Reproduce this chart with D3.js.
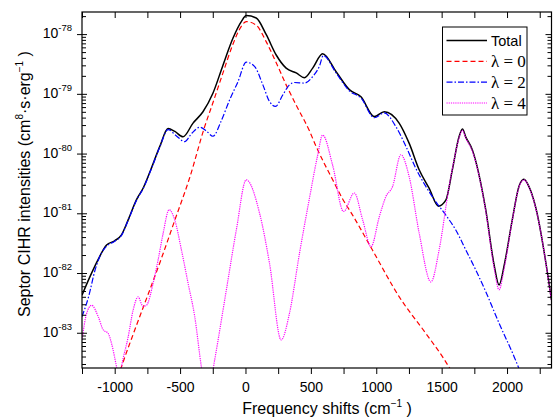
<!DOCTYPE html>
<html>
<head>
<meta charset="utf-8">
<script src="https://cdn.jsdelivr.net/npm/d3@7"></script>
<style>
  body { margin: 0; background: #fff; }
</style>
</head>
<body>
<svg id="chart"></svg>
<script>
/* CONSTANTS AND GLOBALS */
const width = 553,
  height = 418,
  margin = { top: 12, bottom: 50, left: 82, right: 1.5 };
const sans = "'Liberation Sans', Arial, sans-serif";
const serif = "'Liberation Serif', 'Times New Roman', serif";

// frequency shift (cm^-1) and log10 of intensity
const totalData = [
  [-1250, -82.37], [-1189, -82.06], [-1126, -81.77], [-1062, -81.53], [-1000, -81.46],
  [-948, -81.36], [-897, -81.11], [-833, -80.77], [-783, -80.58], [-724, -80.27],
  [-655, -79.88], [-592, -79.58], [-540, -79.63], [-478, -79.72], [-401, -79.49],
  [-325, -79.30], [-249, -78.99], [-172, -78.52], [-96, -78.07], [-32, -77.79],
  [6, -77.69], [82, -77.73], [159, -78.01], [235, -78.35], [311, -78.57],
  [388, -78.65], [451, -78.73], [514, -78.57], [590, -78.33], [693, -78.63],
  [794, -78.93], [883, -79.05], [985, -79.38], [1061, -79.30], [1175, -79.49],
  [1252, -79.83], [1328, -80.27], [1404, -80.58], [1475, -80.88], [1532, -80.78],
  [1582, -80.27], [1633, -79.72], [1659, -79.59], [1684, -79.72], [1735, -79.94],
  [1837, -80.94], [1900, -81.85], [1939, -82.20], [1980, -81.85], [2040, -81.11],
  [2091, -80.55], [2129, -80.43], [2167, -80.55], [2218, -80.89], [2340, -82.45]
];

const lambda0Data = [
  [-975, -83.75], [-948, -83.57], [-846, -82.95], [-745, -82.36], [-642, -81.75],
  [-541, -81.12], [-426, -80.40], [-312, -79.55], [-249, -79.15], [-172, -78.65],
  [-96, -78.17], [-32, -77.87], [6, -77.79], [82, -77.85], [159, -78.13],
  [235, -78.48], [311, -78.85], [388, -79.19], [489, -79.62], [540, -79.88],
  [667, -80.44], [743, -80.76], [819, -81.03], [972, -81.62], [1176, -82.40],
  [1379, -83.01], [1506, -83.40], [1580, -83.66]
];

const lambda2Data = [
  [-1250, -82.73], [-1200, -82.40], [-1150, -81.95], [-1100, -81.66], [-1062, -81.55],
  [-1000, -81.47], [-948, -81.37], [-897, -81.12], [-833, -80.78], [-783, -80.59],
  [-724, -80.28], [-655, -79.89], [-592, -79.60], [-530, -79.70], [-465, -79.80],
  [-410, -79.66], [-350, -79.56], [-300, -79.62], [-249, -79.71], [-185, -79.45],
  [-121, -79.10], [-58, -78.80], [6, -78.47], [69, -78.54], [133, -78.85],
  [184, -79.13], [230, -79.21], [285, -79.02], [336, -78.85], [375, -78.81],
  [451, -78.82], [514, -78.71], [565, -78.54], [595, -78.36], [693, -78.65],
  [794, -78.95], [883, -79.07], [985, -79.40], [1061, -79.32], [1150, -79.55],
  [1227, -79.88], [1303, -80.25], [1379, -80.55], [1456, -80.81], [1532, -81.03],
  [1608, -81.28], [1684, -81.61], [1761, -81.95], [1837, -82.31], [1939, -82.84],
  [2054, -83.40], [2110, -83.70]
];

const lambda4Data = [
  [-1250, -83.12], [-1215, -82.68], [-1176, -82.54], [-1126, -82.73], [-1088, -82.95],
  [-1050, -83.01], [-1024, -83.18], [-986, -83.57], [-965, -83.80], [-948, -83.57],
  [-897, -83.07], [-859, -82.62], [-821, -82.40], [-783, -82.56], [-757, -82.54],
  [-706, -82.17], [-668, -81.78], [-630, -81.34], [-584, -80.94], [-541, -81.11],
  [-490, -81.61], [-439, -82.17], [-388, -82.73], [-337, -83.57], [-290, -84.10],
  [-236, -83.46], [-146, -82.28], [-70, -81.28], [6, -80.44], [108, -81.00],
  [184, -81.84], [273, -83.12], [336, -82.68], [413, -81.67], [489, -80.75],
  [550, -80.05], [590, -79.69], [667, -80.20], [750, -80.97], [832, -80.66],
  [896, -81.11], [960, -81.56], [1023, -81.06], [1074, -80.72], [1125, -80.55],
  [1188, -80.02], [1252, -80.39], [1328, -81.33], [1418, -82.15], [1481, -81.61],
  [1557, -80.55], [1595, -80.11], [1633, -79.74], [1659, -79.61], [1684, -79.74],
  [1735, -79.96], [1837, -80.96], [1900, -81.90], [1939, -82.28], [1980, -81.90],
  [2040, -81.12], [2091, -80.56], [2129, -80.44], [2167, -80.56], [2218, -80.90],
  [2340, -82.47]
];

const xTicks = [-1000, -500, 0, 500, 1000, 1500, 2000];
const yExponents = [-78, -79, -80, -81, -82, -83];

const series = [
  { name: "Total", data: totalData, color: "#000000", dash: null, width: 1.5, serif: false },
  { name: "λ = 0", data: lambda0Data, color: "#ff0000", dash: "5,3", width: 1.2, serif: true },
  { name: "λ = 2", data: lambda2Data, color: "#0000ff", dash: "6,2,1.5,2", width: 1.2, serif: true },
  { name: "λ = 4", data: lambda4Data, color: "#ff00ff", dash: "1.2,1", width: 1.2, serif: true }
];

/* SCALES */
const xScale = d3.scaleLinear()
  .domain([-1250, 2340])
  .range([margin.left, width - margin.right]);

const yScale = d3.scaleLog()
  .domain([Math.pow(10, -83.59), Math.pow(10, -77.63)])
  .range([height - margin.bottom, margin.top]);

const plotW = width - margin.right - margin.left;
const plotH = height - margin.bottom - margin.top;

/* SVG */
const svg = d3.select("#chart")
  .attr("width", width)
  .attr("height", height)
  .attr("font-family", sans);

svg.append("defs").append("clipPath")
  .attr("id", "plot-clip")
  .append("rect")
  .attr("x", margin.left)
  .attr("y", margin.top)
  .attr("width", plotW)
  .attr("height", plotH);

/* LINES */
const lineGen = d3.line()
  .x(d => xScale(d[0]))
  .y(d => yScale(Math.pow(10, d[1])))
  .curve(d3.curveMonotoneX);

// total first, components drawn over it
svg.append("g")
  .attr("clip-path", "url(#plot-clip)")
  .selectAll("path")
  .data(series)
  .join("path")
  .attr("fill", "none")
  .attr("stroke", d => d.color)
  .attr("stroke-width", d => d.width)
  .attr("stroke-dasharray", d => d.dash)
  .attr("d", d => lineGen(d.data));

/* AXES */
const minorTicks = [];
for (let e = -84; e <= -78; e++) {
  for (let k = 2; k <= 9; k++) {
    const v = k * Math.pow(10, e);
    if (v > yScale.domain()[0] && v < yScale.domain()[1]) minorTicks.push(v);
  }
}
const majorTicks = yExponents.map(e => Math.pow(10, e));
const xAllTicks = d3.range(-1250, 2341, 250);

// bottom
svg.append("g")
  .attr("transform", `translate(0, ${height - margin.bottom})`)
  .call(d3.axisBottom(xScale)
    .tickValues(xAllTicks)
    .tickSize(6)
    .tickPadding(8)
    .tickFormat(d => xTicks.includes(d) ? d : ""))
  .call(g => g.select(".domain").remove())
  .call(g => g.selectAll("text").attr("font-size", 14).attr("font-family", sans));

// top
svg.append("g")
  .attr("transform", `translate(0, ${margin.top})`)
  .call(d3.axisTop(xScale).tickValues(xAllTicks).tickSize(-6).tickFormat(""))
  .call(g => g.select(".domain").remove());

// left, major + minor
svg.append("g")
  .attr("transform", `translate(${margin.left}, 0)`)
  .call(d3.axisLeft(yScale).tickValues(majorTicks).tickSize(5).tickFormat(""))
  .call(g => g.select(".domain").remove());
svg.append("g")
  .attr("transform", `translate(${margin.left}, 0)`)
  .call(d3.axisLeft(yScale).tickValues(majorTicks).tickSize(-5).tickFormat(""))
  .call(g => g.select(".domain").remove());
svg.append("g")
  .attr("transform", `translate(${margin.left}, 0)`)
  .call(d3.axisLeft(yScale).tickValues(minorTicks).tickSize(-4).tickFormat(""))
  .call(g => g.select(".domain").remove());

// right, major + minor inward
svg.append("g")
  .attr("transform", `translate(${width - margin.right}, 0)`)
  .call(d3.axisRight(yScale).tickValues(majorTicks).tickSize(-6).tickFormat(""))
  .call(g => g.select(".domain").remove());
svg.append("g")
  .attr("transform", `translate(${width - margin.right}, 0)`)
  .call(d3.axisRight(yScale).tickValues(minorTicks).tickSize(-4).tickFormat(""))
  .call(g => g.select(".domain").remove());

// y tick labels 10^n
const yLabels = svg.append("g")
  .selectAll("text")
  .data(yExponents)
  .join("text")
  .attr("x", margin.left - 10)
  .attr("y", d => yScale(Math.pow(10, d)) + 4)
  .attr("text-anchor", "end")
  .attr("font-size", 14);
yLabels.append("tspan").text("10");
yLabels.append("tspan")
  .attr("font-size", 9.5)
  .attr("dy", -7)
  .text(d => d);

// frame
svg.append("rect")
  .attr("x", margin.left)
  .attr("y", margin.top)
  .attr("width", plotW)
  .attr("height", plotH)
  .attr("fill", "none")
  .attr("stroke", "#000")
  .attr("stroke-width", 1.2);

svg.selectAll(".tick line").attr("stroke", "#000").attr("stroke-width", 1);

/* AXIS TITLES */
const xTitle = svg.append("text")
  .attr("x", 327)
  .attr("y", 414)
  .attr("text-anchor", "middle")
  .attr("font-size", 16);
xTitle.append("tspan").text("Frequency shifts (cm");
xTitle.append("tspan").attr("font-size", 10).attr("dy", -7).text("−1");
xTitle.append("tspan").attr("dy", 7).text(" )");

const yTitle = svg.append("text")
  .attr("transform", `translate(30, 184) rotate(-90)`)
  .attr("text-anchor", "middle")
  .attr("font-size", 16);
yTitle.append("tspan").text("Septor CIHR intensities (cm");
yTitle.append("tspan").attr("font-size", 10).attr("dy", -7).text("8");
yTitle.append("tspan").attr("dy", 7).text("·s·erg");
yTitle.append("tspan").attr("font-size", 10).attr("dy", -7).text("−1");
yTitle.append("tspan").attr("dy", 7).text(" )");

/* LEGEND */
const legend = svg.append("g");
legend.append("rect")
  .attr("x", 442.5)
  .attr("y", 27)
  .attr("width", 84.5)
  .attr("height", 88)
  .attr("fill", "#fff")
  .attr("stroke", "#000")
  .attr("stroke-width", 1);

const legendRow = d3.scaleLinear().domain([0, 3]).range([40.5, 103]);

const items = legend.selectAll(".item")
  .data(series)
  .join("g")
  .attr("class", "item")
  .attr("transform", (d, i) => `translate(0, ${legendRow(i)})`);

items.append("line")
  .attr("x1", 446.5)
  .attr("x2", 487)
  .attr("stroke", d => d.color)
  .attr("stroke-width", d => d.width)
  .attr("stroke-dasharray", d => d.dash);

items.append("text")
  .attr("x", 491)
  .attr("y", 5.5)
  .attr("font-size", d => d.serif ? 17 : 14.5)
  .attr("font-family", d => d.serif ? serif : sans)
  .attr("xml:space", "preserve")
  .text(d => d.name);
</script>
</body>
</html>
